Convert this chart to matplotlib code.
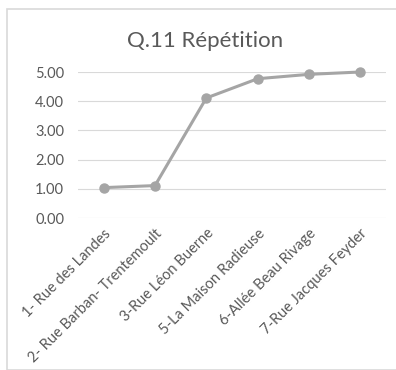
import matplotlib
matplotlib.use("Agg")
import matplotlib.pyplot as plt
from matplotlib.patches import Rectangle

categories = ["1- Rue des Landes", "2- Rue Barban- Trentemoult", "3-Rue Léon Buerne",
              "5-La Maison Radieuse", "6-Allée Beau Rivage", "7-Rue Jacques Feyder"]
values = [1.04, 1.11, 4.11, 4.77, 4.92, 5.00]
yticks = [0, 1, 2, 3, 4, 5]
title = "Q.11 Répétition"

plt.rcParams['font.family'] = ['Lato', 'DejaVu Sans']
fig = plt.figure(figsize=(3.96, 3.70), dpi=100)
fig.patches.append(Rectangle((7/396, 0), 1, 1 - 9/370, transform=fig.transFigure,
                             fill=False, edgecolor="#D9D9D9", linewidth=1.2))
ax = fig.add_axes([78/396, 1 - 218/370, (386 - 78)/396, (218 - 72)/370])
x = list(range(len(categories)))
ax.plot(x, values, color="#A5A5A5", linewidth=2.2, marker="o", markersize=6.5,
        clip_on=False, zorder=3)
ax.set_xlim(-0.5, len(categories) - 0.5)
ax.set_ylim(0, 5)
ax.set_yticks(yticks)
ax.set_yticklabels([f"{v:.2f}" for v in yticks])
ax.grid(axis="y", color="#D9D9D9", linewidth=0.8)
ax.set_axisbelow(True)
for s in ax.spines.values():
    s.set_visible(False)
ax.set_xticks(x)
ax.set_xticklabels(categories, rotation=45, ha="right", rotation_mode="anchor")
ax.tick_params(axis="both", length=0, colors="#595959", labelsize=10.5)
ax.tick_params(axis="y", pad=10)
ax.tick_params(axis="x", pad=6)
fig.text(205.5/396, 1 - 47/370, title, ha="center", va="baseline", fontsize=16, color="#595959")
fig.savefig("out.png", dpi=100)
